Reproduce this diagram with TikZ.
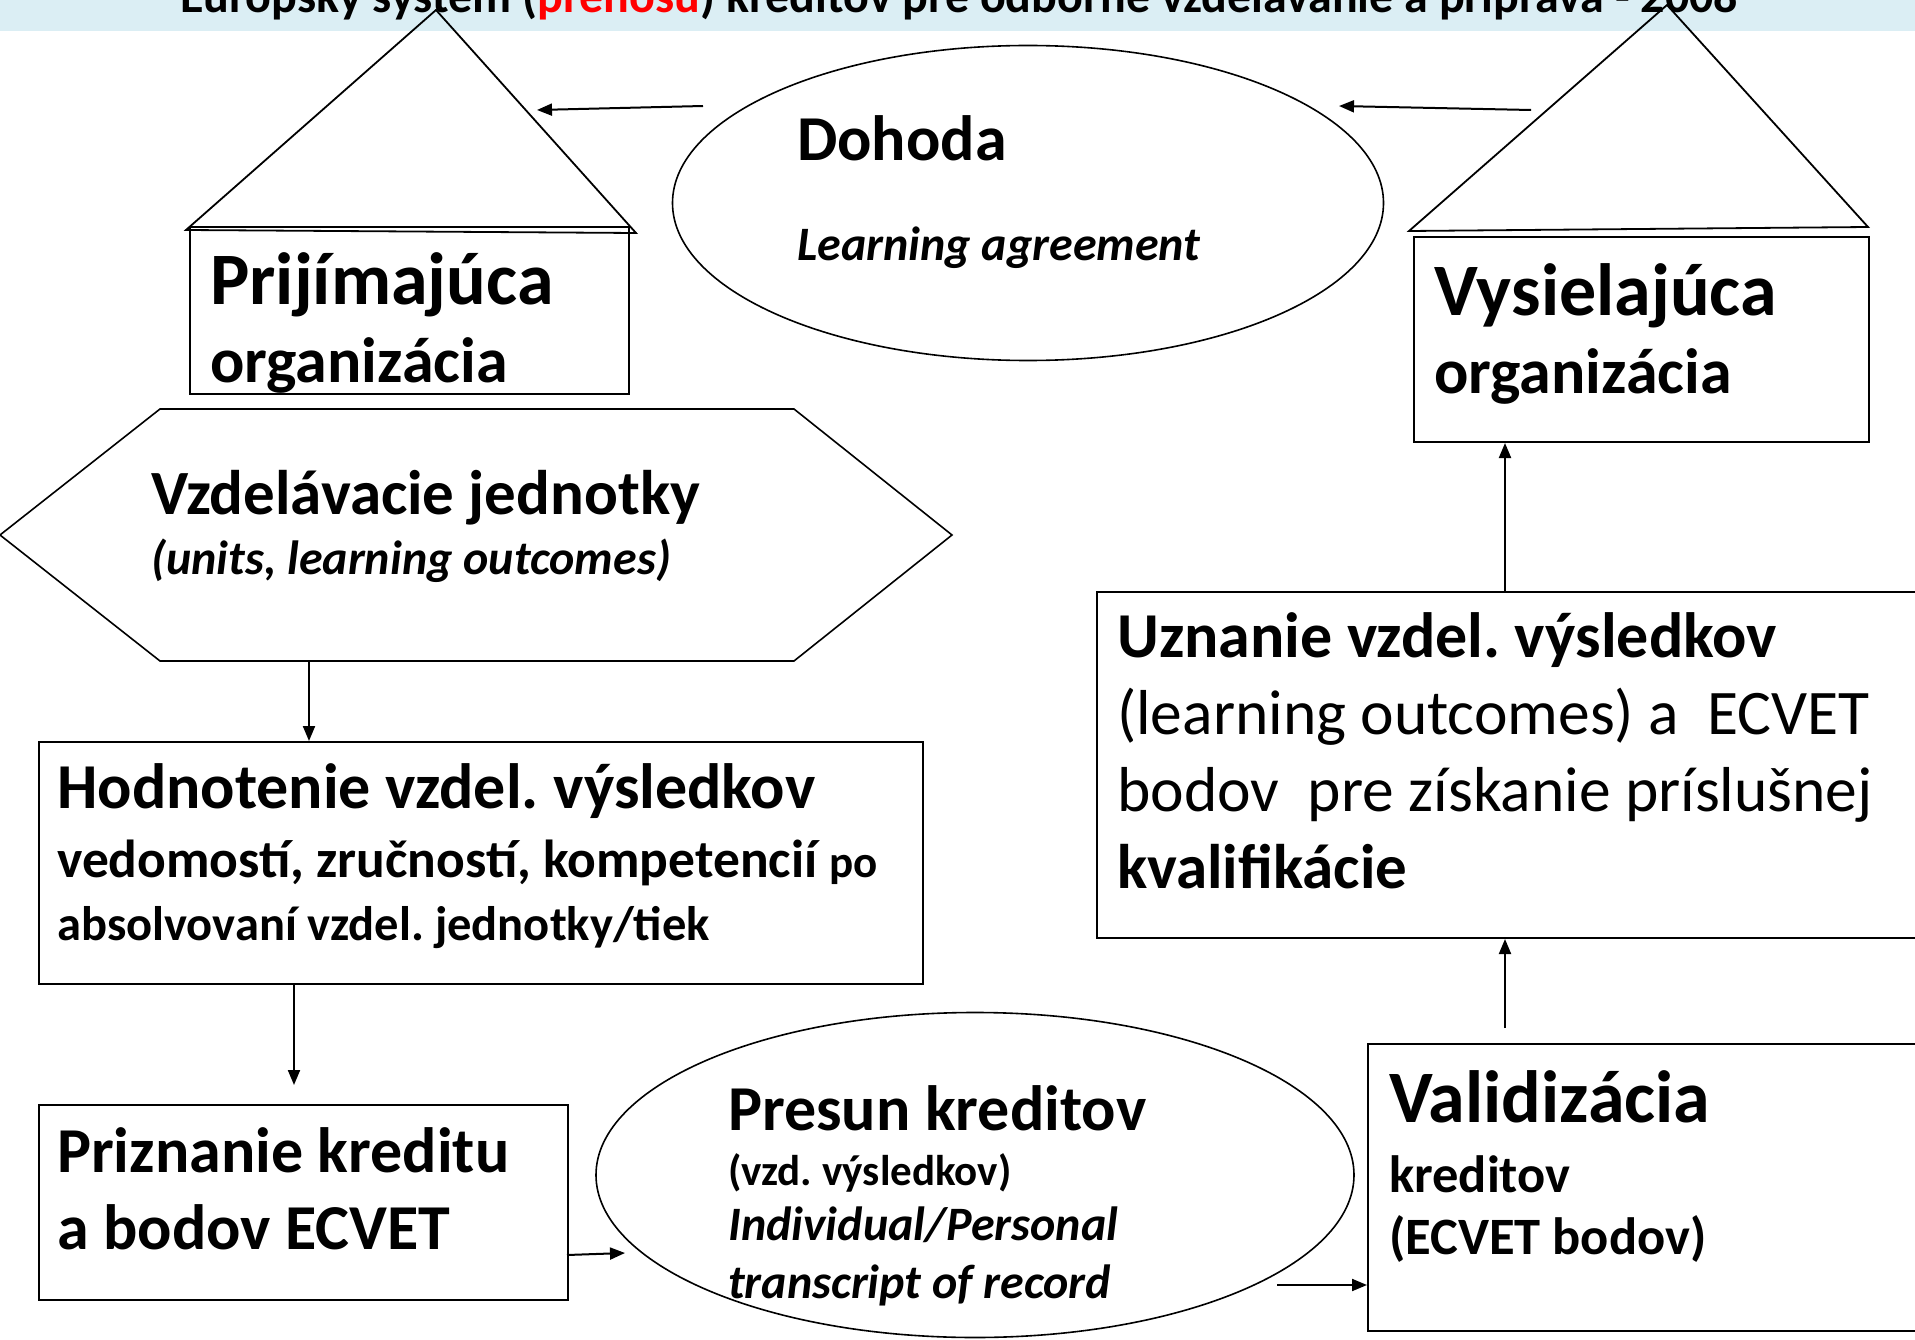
\documentclass[tikz,border=0pt]{standalone}
\usepackage{fontspec}
\setmainfont{Carlito}
\usetikzlibrary{arrows.meta,shapes.geometric}
\definecolor{bannerblue}{HTML}{DBEEF4}
\newcommand\pxsize[1]{\fontsize{#1}{#1}\selectfont}
\frenchspacing
\begin{document}
\begin{tikzpicture}[x=1pt,y=-1pt,
  box/.style={draw, line width=2pt, inner sep=0pt, anchor=north west},
  oval/.style={draw, ellipse, line width=1.6pt, inner sep=0pt},
  roof/.style={draw, line width=1.8pt, line join=miter},
  arr/.style={line width=2pt, -{Triangle[length=15pt,width=12pt]}},
  txt/.style={anchor=base west, inner sep=0pt},
]
\useasboundingbox (0,0) rectangle (1915,1340);
\clip (0,0) rectangle (1915,1340);
\fill[bannerblue] (0,0) rectangle (1915,31);
\node[anchor=base, inner sep=0pt, font=\bfseries\pxsize{48}] (title) at (959,13)
  {Európsky systém ({\color{red}prenosu}) kreditov pre odborné vzdelávanie a príprava - 2008};

% left house (receiving organisation)
\node[box, minimum width=439pt, minimum height=167pt] (recv) at (189,226) {};
\coordinate (rlA) at (436,10);
\coordinate (rlL) at (186,230);
\coordinate (rlR) at (636,233);
\draw[roof] (rlL) -- (rlA) -- (rlR) -- cycle;
\node[txt, font=\bfseries\pxsize{74}] (recvT1) at (210,305) {Prijímajúca};
\node[txt, font=\bfseries\pxsize{64}] (recvT2) at (210,382) {organizácia};

% right house (sending organisation)
\node[box, minimum width=455pt, minimum height=205pt] (send) at (1413,236) {};
\coordinate (rrA) at (1667,5);
\coordinate (rrL) at (1409,231);
\coordinate (rrR) at (1868,227);
\draw[roof] (rrL) -- (rrA) -- (rrR) -- cycle;
\node[txt, font=\bfseries\pxsize{74}] (sendT1) at (1434,316) {Vysielajúca};
\node[txt, font=\bfseries\pxsize{64}] (sendT2) at (1434,393) {organizácia};

% agreement ellipse
\node[oval, minimum width=711pt, minimum height=315pt] (agr) at (1028,203) {};
\node[txt, font=\bfseries\pxsize{64}] (agrT1) at (797,161) {Dohoda};
\node[txt, font=\bfseries\itshape\pxsize{48}] (agrT2) at (797,261) {Learning agreement};

% hexagon
\coordinate (hW) at (0,535);
\coordinate (hNW) at (160,409);
\coordinate (hNE) at (794,409);
\coordinate (hE) at (952,535);
\coordinate (hSE) at (794,661);
\coordinate (hSW) at (160,661);
\draw[line width=1.6pt] (hW) -- (hNW) -- (hNE) -- (hE) -- (hSE) -- (hSW) -- cycle;
\node[txt, font=\bfseries\pxsize{63}] (unitsT1) at (151,514) {Vzdelávacie jednotky};
\node[txt, font=\bfseries\itshape\pxsize{48}] (unitsT2) at (151,574) {(units, learning outcomes)};

% assessment box
\node[box, minimum width=884pt, minimum height=242pt] (assess) at (38,741) {};
\node[txt, font=\bfseries\pxsize{64}] (assT1) at (57,808) {Hodnotenie vzdel. výsledkov};
\node[txt, font=\bfseries\pxsize{53.5}] (assT2) at (57,877) {vedomostí, zručností, kompetencií {\pxsize{45}po}};
\node[txt, font=\bfseries\pxsize{48.5}] (assT3) at (57,940) {absolvovaní vzdel. jednotky/tiek};

% award box
\node[box, minimum width=529pt, minimum height=195pt] (award) at (38,1104) {};
\node[txt, font=\bfseries\pxsize{64}] (awT1) at (57,1172) {Priznanie kreditu};
\node[txt, font=\bfseries\pxsize{64}] (awT2) at (57,1249) {a bodov ECVET};

% transfer ellipse
\node[oval, minimum width=758pt, minimum height=325pt] (trans) at (975,1175) {};
\node[txt, font=\bfseries\pxsize{64}] (trT1) at (728,1130) {Presun kreditov};
\node[txt, font=\bfseries\pxsize{43}] (trT2) at (728,1185) {(vzd. výsledkov)};
\node[txt, font=\bfseries\itshape\pxsize{48}] (trT3) at (728,1240) {Individual/Personal};
\node[txt, font=\bfseries\itshape\pxsize{48}] (trT4) at (728,1298) {transcript of record};

% validation box
\node[box, minimum width=600pt, minimum height=287pt] (valid) at (1367,1043) {};
\node[txt, font=\bfseries\pxsize{74}] (vaT1) at (1389,1122) {Validizácia};
\node[txt, font=\bfseries\pxsize{52.5}] (vaT2) at (1389,1192) {kreditov};
\node[txt, font=\bfseries\pxsize{52.5}] (vaT3) at (1389,1254) {(ECVET bodov)};

% recognition box
\node[box, minimum width=850pt, minimum height=346pt] (recog) at (1096,591) {};
\node[txt, font=\bfseries\pxsize{64}] (reT1) at (1117,657) {Uznanie vzdel. výsledkov};
\node[txt, font=\pxsize{63.5}] (reT2) at (1117,734) {(learning outcomes) a\ \ ECVET};
\node[txt, font=\pxsize{63.5}] (reT3) at (1117,811) {bodov\ \ pre získanie príslušnej};
\node[txt, font=\bfseries\pxsize{63}] (reT4) at (1117,888) {kvalifikácie};

% connectors
\coordinate (a1s) at (703,106);
\coordinate (a1e) at (537,110);
\draw[arr] (a1s) -- (a1e);
\coordinate (a2s) at (1531,110);
\coordinate (a2e) at (1339,106);
\draw[arr] (a2s) -- (a2e);
\coordinate (xa) at (309,0);
\draw[arr] (xa |- hSW) -- (xa |- assess.north);
\coordinate (xb) at (294,0);
\coordinate (b2e) at (294,1085);
\draw[arr] (xb |- assess.south) -- (b2e);
\coordinate (c1s) at (567,1255);
\coordinate (c1e) at (625,1253);
\draw[arr] (c1s) -- (c1e);
\coordinate (c2s) at (1277,1285);
\draw[arr] (c2s) -- (c2s -| valid.west);
\coordinate (xc) at (1505,0);
\coordinate (d1s) at (1505,1028);
\draw[arr] (d1s) -- (xc |- recog.south);
\draw[arr] (xc |- recog.north) -- (xc |- send.south);
\end{tikzpicture}
\end{document}
